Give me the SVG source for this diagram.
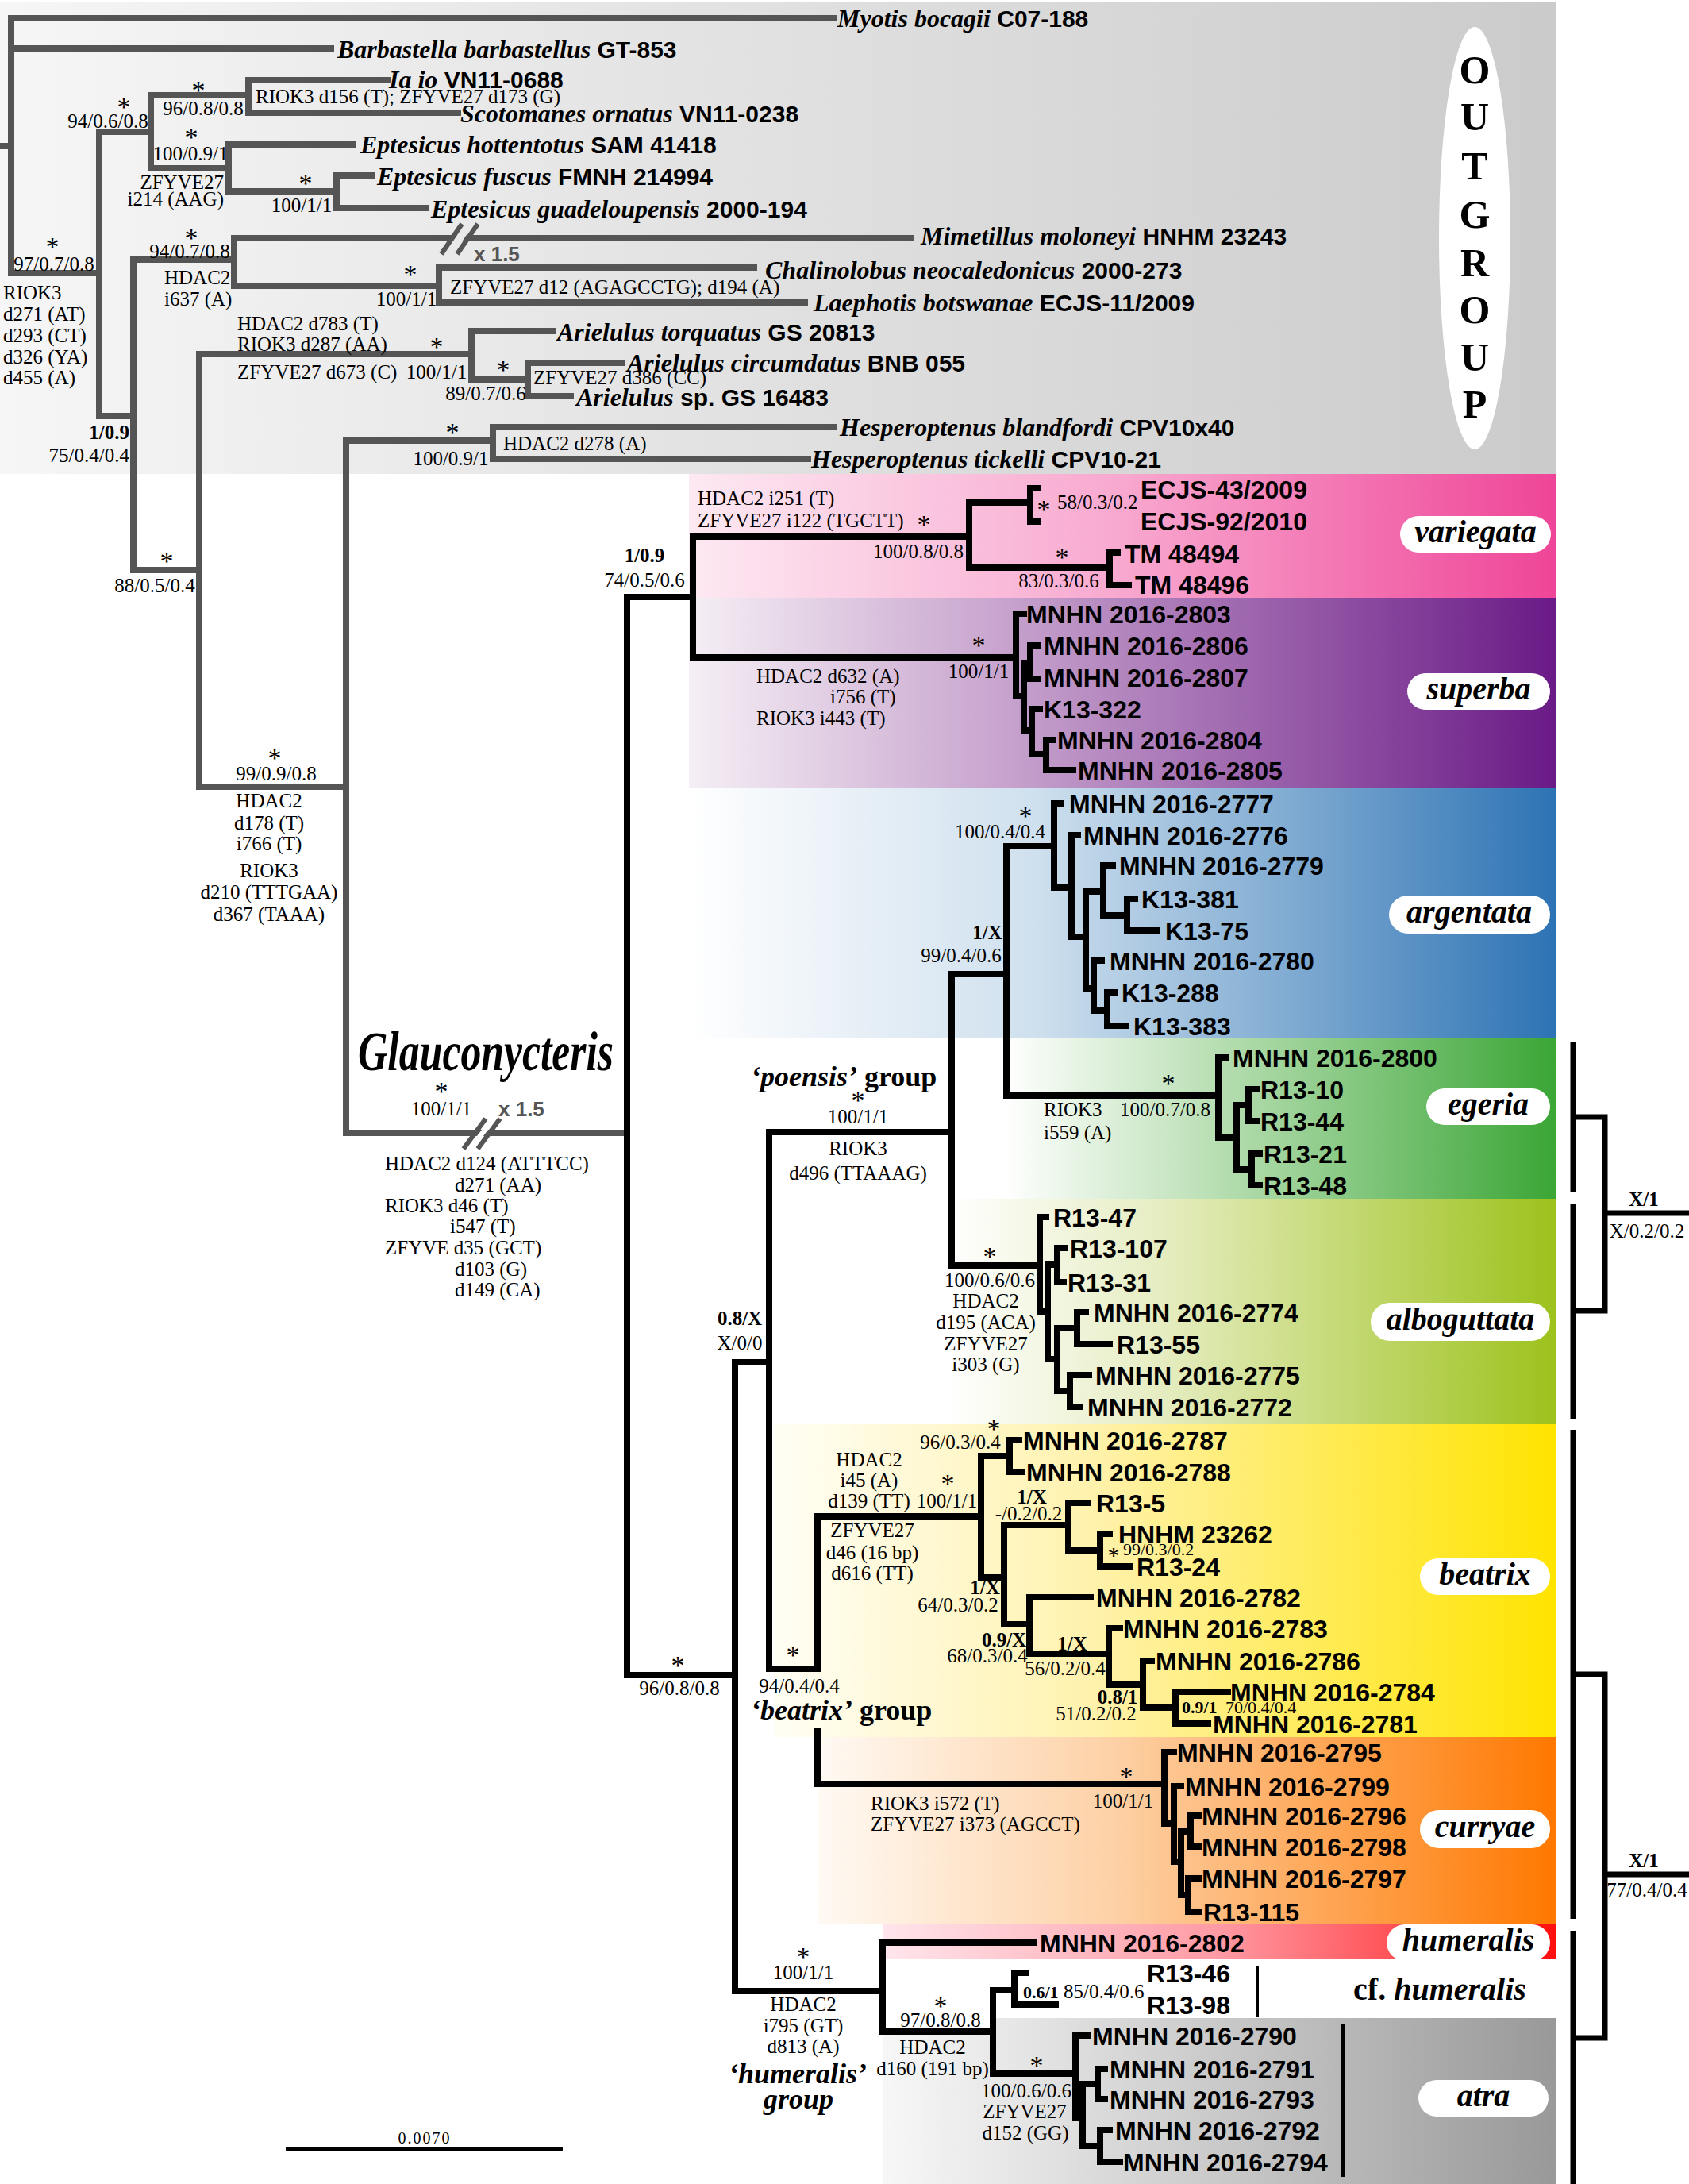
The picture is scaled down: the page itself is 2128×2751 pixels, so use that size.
<svg xmlns="http://www.w3.org/2000/svg" width="2128" height="2751" viewBox="0 0 2128 2751">
<defs>
<linearGradient id="gOut" x1="0" x2="1" y1="0" y2="0"><stop offset="0" stop-color="#f6f6f6"/><stop offset="1" stop-color="#cbcbcb"/></linearGradient>
<linearGradient id="gVar" x1="0" x2="1" y1="0" y2="0"><stop offset="0" stop-color="#fde9f2"/><stop offset="0.5" stop-color="#f8a8cf"/><stop offset="1" stop-color="#ef4598"/></linearGradient>
<linearGradient id="gSup" x1="0" x2="1" y1="0" y2="0"><stop offset="0" stop-color="#f5eff5"/><stop offset="0.35" stop-color="#c9a6cf"/><stop offset="1" stop-color="#6a1a86"/></linearGradient>
<linearGradient id="gArg" x1="0" x2="1" y1="0" y2="0"><stop offset="0" stop-color="#ffffff"/><stop offset="0.4" stop-color="#cfe0ee"/><stop offset="1" stop-color="#2d73b4"/></linearGradient>
<linearGradient id="gEge" x1="0" x2="1" y1="0" y2="0"><stop offset="0" stop-color="#ffffff"/><stop offset="0.3" stop-color="#c9e6c4"/><stop offset="1" stop-color="#3ba636"/></linearGradient>
<linearGradient id="gAlb" x1="0" x2="1" y1="0" y2="0"><stop offset="0" stop-color="#ffffff"/><stop offset="0.35" stop-color="#e6edc2"/><stop offset="1" stop-color="#9dc21d"/></linearGradient>
<linearGradient id="gBea" x1="0" x2="1" y1="0" y2="0"><stop offset="0" stop-color="#fffef5"/><stop offset="0.4" stop-color="#fff2ae"/><stop offset="1" stop-color="#ffe400"/></linearGradient>
<linearGradient id="gCur" x1="0" x2="1" y1="0" y2="0"><stop offset="0" stop-color="#fffaf4"/><stop offset="0.4" stop-color="#fdd1a6"/><stop offset="1" stop-color="#ff7800"/></linearGradient>
<linearGradient id="gHum" x1="0" x2="1" y1="0" y2="0"><stop offset="0" stop-color="#ffe6ec"/><stop offset="0.5" stop-color="#ff9aa4"/><stop offset="1" stop-color="#ff0f0f"/></linearGradient>
<linearGradient id="gAtr" gradientUnits="userSpaceOnUse" x1="1112" x2="1960" y1="0" y2="0"><stop offset="0" stop-color="#f7f7f7"/><stop offset="0.2" stop-color="#e6e6e6"/><stop offset="1" stop-color="#999999"/></linearGradient>
<style>
.og{fill:none;stroke:#555;stroke-width:8;stroke-linecap:square}
.ig{fill:none;stroke:#000;stroke-width:8;stroke-linecap:square}
.br{fill:none;stroke:#000;stroke-width:7}
.sep{fill:none;stroke:#000;stroke-width:4}
.sv{font-family:"Liberation Serif",serif;font-size:25px;fill:#000}
.sm{font-size:22px}
.b{font-weight:bold}
.m{text-anchor:middle}
.e{text-anchor:end}
.ast{font-family:"Liberation Serif",serif;font-size:34px;text-anchor:middle}
.tip{font-family:"Liberation Sans",Arial,sans-serif;font-weight:bold;font-size:32px}
.ogsp{font-family:"Liberation Serif",serif;font-style:italic;font-weight:bold;font-size:32px}
.code{font-family:"Liberation Sans",Arial,sans-serif;font-style:normal;font-weight:bold;font-size:30px}
.pill{fill:#fff}
.pt{font-family:"Liberation Serif",serif;font-style:italic;font-weight:bold;font-size:40px;text-anchor:middle}
.grp{font-family:"Liberation Serif",serif;font-weight:bold;font-size:36px}
.brk{font-family:"Liberation Sans",Arial,sans-serif;font-weight:bold;font-size:26px;fill:#555}
.og-letter{font-family:"Liberation Serif",serif;font-weight:bold;font-size:50px;text-anchor:middle}
</style>
</defs>
<rect width="2128" height="2751" fill="#fff"/>
<g id="bands">
<rect x="0" y="3" width="1960" height="594" fill="url(#gOut)"/>
<rect x="868" y="597" width="1092" height="156" fill="url(#gVar)"/>
<rect x="868" y="753" width="1092" height="240" fill="url(#gSup)"/>
<rect x="868" y="993" width="1092" height="315" fill="url(#gArg)"/>
<rect x="1265" y="1308" width="695" height="202" fill="url(#gEge)"/>
<rect x="1192" y="1510" width="768" height="284" fill="url(#gAlb)"/>
<rect x="975" y="1794" width="985" height="394" fill="url(#gBea)"/>
<rect x="1030" y="2188" width="930" height="236" fill="url(#gCur)"/>
<rect x="1112" y="2424" width="848" height="44" fill="url(#gHum)"/>
<path d="M1251 2542H1960V2751H1112V2562H1251Z" fill="url(#gAtr)"/>
</g>
<g id="connectors">
<path class="og" d="M0 184H14 M14 23V344 M14 23H1050 M14 61H417 M14 344H125 M125 166V524 M125 166H190 M190 120V212 M190 120H313 M313 101V142 M313 101H489 M313 142H577 M190 212H288 M288 182V241 M288 182H444 M288 241H424 M424 221V262 M424 221H468 M424 262H536 M125 524H168 M168 327V718 M168 327H295 M295 300V360 M295 300H1147 M295 360H553 M553 337V381 M553 337H950 M553 381H1014 M168 718H251 M251 446V991 M251 446H594 M594 417V478 M594 417H696 M594 478H665 M665 457V499 M665 457H784 M665 499H719 M251 991H436 M436 555V1427 M436 555H621 M621 538V578 M621 538H1050 M621 578H1018 M436 1427H786"/>
<path class="ig" d="M790 752V2110 M790 752H873 M873 676V828 M873 676H1221 M1221 633V715 M1221 633H1298 M1298 615V657 M1298 615H1308 M1298 657H1308 M1221 715H1398 M1398 696V737 M1398 696H1408 M1398 737H1422 M873 828H1280 M1280 773V877 M1280 773H1290 M1280 877H1290 M1290 835V920 M1290 835H1298 M1298 813V855 M1298 813H1308 M1298 855H1308 M1290 920H1300 M1300 893V950 M1300 893H1310 M1300 950H1318 M1318 932V970 M1318 932H1326 M1318 970H1352"/>
<path class="ig" d="M790 2110H926 M926 1716V2508 M926 1716H969 M969 1426V2102 M969 1426H1199 M1199 1227V1594 M1199 1227H1268 M1268 1066V1380 M1268 1066H1328 M1328 1012V1118 M1328 1012H1337 M1328 1118H1350 M1350 1052V1180 M1350 1052H1358 M1350 1180H1368 M1368 1123V1245 M1368 1123H1390 M1390 1090V1153 M1390 1090H1402 M1390 1153H1420 M1420 1132V1172 M1420 1132H1430 M1420 1172H1457 M1368 1245H1378 M1378 1210V1273 M1378 1210H1388 M1378 1273H1395 M1395 1250V1292 M1395 1250H1405 M1395 1292H1418 M1268 1380H1535 M1535 1332V1433 M1535 1332H1545 M1535 1433H1558 M1558 1392V1473 M1558 1392H1573 M1573 1372V1412 M1573 1372H1583 M1573 1412H1583 M1558 1473H1577 M1577 1453V1493 M1577 1453H1587 M1577 1493H1587 M1199 1594H1310 M1310 1533V1652 M1310 1533H1318 M1310 1652H1320 M1320 1593V1712 M1320 1593H1332 M1332 1572V1615 M1332 1572H1342 M1332 1615H1340 M1320 1712H1332 M1332 1673V1752 M1332 1673H1357 M1357 1653V1693 M1357 1653H1368 M1357 1693H1398 M1332 1752H1348 M1348 1732V1772 M1348 1732H1372 M1348 1772H1360"/>
<path class="ig" d="M969 2102H1030 M1030 1910V2094 M1030 2180V2247 M1030 1910H1236 M1236 1834V1987 M1236 1834H1272 M1272 1814V1854 M1272 1814H1284 M1272 1854H1288 M1236 1987H1265 M1265 1921V2046 M1265 1921H1346 M1346 1893V1953 M1346 1893H1371 M1346 1953H1386 M1386 1932V1973 M1386 1932H1398 M1386 1973H1423 M1265 2046H1297 M1297 2012V2083 M1297 2012H1374 M1297 2083H1397 M1397 2051V2122 M1397 2051H1411 M1397 2122H1440 M1440 2092V2151 M1440 2092H1451 M1440 2151H1481 M1481 2131V2171 M1481 2131H1547 M1481 2171H1522 M1030 2247H1467 M1467 2207V2297 M1467 2207H1479 M1467 2297H1479 M1479 2250V2345 M1479 2250H1488 M1479 2345H1488 M1488 2307V2387 M1488 2307H1500 M1500 2287V2326 M1500 2287H1510 M1500 2326H1510 M1488 2387H1497 M1497 2366V2408 M1497 2366H1510 M1497 2408H1510 M926 2508H1112 M1112 2447V2559 M1112 2447H1303 M1112 2559H1251 M1251 2507V2612 M1251 2507H1278 M1278 2485V2525 M1278 2485H1293 M1278 2525H1330 M1251 2612H1355 M1355 2564V2668 M1355 2564H1371 M1355 2668H1364 M1364 2625V2703 M1364 2625H1383 M1383 2606V2644 M1383 2606H1392 M1383 2644H1392 M1364 2703H1386 M1386 2683V2723 M1386 2683H1398 M1386 2723H1411"/>
<polygon points="561,318 585,282 597,282 573,318" fill="#e9e9e9"/>
<path d="M556 320L582 282 M576 320L602 282" stroke="#555" stroke-width="6" fill="none"/>
<polygon points="590,1445 618,1409 626,1409 598,1445" fill="#fff"/>
<path d="M584 1447L612 1409 M602 1447L630 1409" stroke="#555" stroke-width="6" fill="none"/>
<path class="br" d="M1982 1313V1502 M1982 1516V1787 M1982 1801V2417 M1982 2432V2751 M1982 1407H2022V1651H1982 M2022 1528H2128 M1982 2109H2022V2567H1982 M2022 2361H2128"/>
<path class="sep" d="M1584 2476V2541 M1692 2550V2742"/>
<path d="M360 2707H709" stroke="#000" stroke-width="6"/>
</g>
<g id="outgroup-taxa">
<g id="t-myotis"><text class="ogsp" x="1055" y="34">Myotis bocagii<tspan class="code"> C07-188</tspan></text></g>
<g id="t-barbastella"><text class="ogsp" x="425" y="73">Barbastella barbastellus<tspan class="code"> GT-853</tspan></text></g>
<g id="t-ia"><text class="ogsp" x="490" y="111">Ia io<tspan class="code"> VN11-0688</tspan></text></g>
<g id="t-scotomanes"><text class="ogsp" x="580" y="154">Scotomanes ornatus<tspan class="code"> VN11-0238</tspan></text></g>
<g id="t-ehot"><text class="ogsp" x="454" y="193">Eptesicus hottentotus<tspan class="code"> SAM 41418</tspan></text></g>
<g id="t-efus"><text class="ogsp" x="475" y="233">Eptesicus fuscus<tspan class="code"> FMNH 214994</tspan></text></g>
<g id="t-egua"><text class="ogsp" x="543" y="274">Eptesicus guadeloupensis<tspan class="code"> 2000-194</tspan></text></g>
<g id="t-mimetillus"><text class="ogsp" x="1160" y="308">Mimetillus moloneyi<tspan class="code"> HNHM 23243</tspan></text></g>
<g id="t-chalinolobus"><text class="ogsp" x="964" y="351">Chalinolobus neocaledonicus<tspan class="code"> 2000-273</tspan></text></g>
<g id="t-laephotis"><text class="ogsp" x="1025" y="392">Laephotis botswanae<tspan class="code"> ECJS-11/2009</tspan></text></g>
<g id="t-atorq"><text class="ogsp" x="702" y="429">Arielulus torquatus<tspan class="code"> GS 20813</tspan></text></g>
<g id="t-acirc"><text class="ogsp" x="790" y="468">Arielulus circumdatus<tspan class="code"> BNB 055</tspan></text></g>
<g id="t-asp"><text class="ogsp" x="726" y="511">Arielulus<tspan class="code"> sp. GS 16483</tspan></text></g>
<g id="t-hbland"><text class="ogsp" x="1058" y="549">Hesperoptenus blandfordi<tspan class="code"> CPV10x40</tspan></text></g>
<g id="t-htick"><text class="ogsp" x="1022" y="589">Hesperoptenus tickelli<tspan class="code"> CPV10-21</tspan></text></g>
</g>
<g id="outgroup-label">
<ellipse cx="1858" cy="300" rx="45" ry="266" class="pill"/>
<text class="og-letter" x="1858" y="105">O</text>
<text class="og-letter" x="1858" y="164">U</text>
<text class="og-letter" x="1858" y="226">T</text>
<text class="og-letter" x="1858" y="287">G</text>
<text class="og-letter" x="1858" y="348">R</text>
<text class="og-letter" x="1858" y="407">O</text>
<text class="og-letter" x="1858" y="467">U</text>
<text class="og-letter" x="1858" y="526">P</text>
</g>
<g id="outgroup-nodes">
<g id="n-root-a"><text class="ast" x="66" y="322">*</text><text class="sv m" x="68" y="341">97/0.7/0.8</text>
<text class="sv" x="4" y="377">RIOK3</text><text class="sv" x="4" y="404">d271 (AT)</text><text class="sv" x="4" y="431">d293 (CT)</text><text class="sv" x="4" y="458">d326 (YA)</text><text class="sv" x="4" y="484">d455 (A)</text></g>
<g id="n-94a"><text class="ast" x="156" y="146">*</text><text class="sv m" x="136" y="161">94/0.6/0.8</text></g>
<g id="n-96a"><text class="ast" x="250" y="125">*</text><text class="sv m" x="256" y="145">96/0.8/0.8</text><text class="sv" x="322" y="130">RIOK3 d156 (T); ZFYVE27 d173 (G)</text></g>
<g id="n-ept"><text class="ast" x="241" y="184">*</text><text class="sv m" x="240" y="202">100/0.9/1</text><text class="sv e" x="282" y="238">ZFYVE27</text><text class="sv e" x="282" y="259">i214 (AAG)</text></g>
<g id="n-efg"><text class="ast" x="385" y="242">*</text><text class="sv m" x="380" y="267">100/1/1</text></g>
<g id="n-109"><text class="sv b e" x="163" y="553">1/0.9</text><text class="sv e" x="163" y="582">75/0.4/0.4</text></g>
<g id="n-94b"><text class="ast" x="241" y="311">*</text><text class="sv m" x="239" y="325">94/0.7/0.8</text><text class="sv" x="207" y="358">HDAC2</text><text class="sv" x="207" y="385">i637 (A)</text><text class="brk" x="597" y="329">x 1.5</text></g>
<g id="n-chal"><text class="ast" x="517" y="357">*</text><text class="sv m" x="512" y="385">100/1/1</text><text class="sv" x="567" y="370">ZFYVE27 d12 (AGAGCCTG); d194 (A)</text></g>
<g id="n-ari"><text class="sv" x="299" y="416">HDAC2 d783 (T)</text><text class="sv" x="299" y="442">RIOK3 d287 (AA)</text><text class="sv" x="299" y="477">ZFYVE27 d673 (C)</text><text class="ast" x="550" y="448">*</text><text class="sv m" x="550" y="477">100/1/1</text></g>
<g id="n-ari2"><text class="ast" x="634" y="477">*</text><text class="sv m" x="612" y="504">89/0.7/0.6</text><text class="sv" x="672" y="484">ZFYVE27 d386 (CC)</text></g>
<g id="n-hesp"><text class="ast" x="570" y="556">*</text><text class="sv m" x="568" y="586">100/0.9/1</text><text class="sv" x="634" y="567">HDAC2 d278 (A)</text></g>
<g id="n-88"><text class="ast" x="210" y="718">*</text><text class="sv m" x="195" y="746">88/0.5/0.4</text></g>
<g id="n-99"><text class="ast" x="346" y="966">*</text><text class="sv m" x="348" y="983">99/0.9/0.8</text>
<text class="sv m" x="339" y="1017">HDAC2</text><text class="sv m" x="339" y="1045">d178 (T)</text><text class="sv m" x="339" y="1071">i766 (T)</text><text class="sv m" x="339" y="1105">RIOK3</text><text class="sv m" x="339" y="1132">d210 (TTTGAA)</text><text class="sv m" x="339" y="1160">d367 (TAAA)</text></g>
<g id="n-glauco"><text class="grp" x="451" y="1348" style="font-size:70px;font-style:italic" textLength="322" lengthAdjust="spacingAndGlyphs">Glauconycteris</text>
<text class="ast" x="556" y="1386">*</text><text class="sv m" x="556" y="1405">100/1/1</text><text class="brk" x="628" y="1406">x 1.5</text>
<text class="sv" x="485" y="1474">HDAC2 d124 (ATTTCC)</text><text class="sv" x="573" y="1501">d271 (AA)</text><text class="sv" x="485" y="1527">RIOK3 d46 (T)</text><text class="sv" x="567" y="1553">i547 (T)</text><text class="sv" x="485" y="1580">ZFYVE d35 (GCT)</text><text class="sv" x="573" y="1607">d103 (G)</text><text class="sv" x="573" y="1633">d149 (CA)</text></g>
</g>
<g id="ingroup-nodes">
<g id="n-varsup"><text class="sv b m" x="812" y="708">1/0.9</text><text class="sv m" x="812" y="739">74/0.5/0.6</text></g>
<g id="n-var"><text class="sv" x="879" y="636">HDAC2 i251 (T)</text><text class="sv" x="879" y="664">ZFYVE27 i122 (TGCTT)</text><text class="ast" x="1164" y="672">*</text><text class="sv m" x="1157" y="703">100/0.8/0.8</text></g>
<g id="n-ecjs"><text class="ast" x="1315" y="653">*</text><text class="sv" x="1332" y="641">58/0.3/0.2</text></g>
<g id="n-tm"><text class="ast" x="1338" y="713">*</text><text class="sv m" x="1334" y="740">83/0.3/0.6</text></g>
<g id="n-sup"><text class="ast" x="1233" y="824">*</text><text class="sv m" x="1233" y="854">100/1/1</text><text class="sv" x="953" y="860">HDAC2 d632 (A)</text><text class="sv" x="1046" y="886">i756 (T)</text><text class="sv" x="953" y="913">RIOK3 i443 (T)</text></g>
<g id="n-arg"><text class="ast" x="1292" y="1039">*</text><text class="sv m" x="1260" y="1056">100/0.4/0.4</text></g>
<g id="n-argege"><text class="sv b m" x="1244" y="1183">1/X</text><text class="sv m" x="1211" y="1212">99/0.4/0.6</text></g>
<g id="n-ege"><text class="ast" x="1472" y="1376">*</text><text class="sv m" x="1468" y="1406">100/0.7/0.8</text><text class="sv" x="1315" y="1406">RIOK3</text><text class="sv" x="1315" y="1435">i559 (A)</text></g>
<g id="n-alb"><text class="ast" x="1247" y="1594">*</text><text class="sv m" x="1247" y="1621">100/0.6/0.6</text><text class="sv m" x="1242" y="1647">HDAC2</text><text class="sv m" x="1242" y="1674">d195 (ACA)</text><text class="sv m" x="1242" y="1701">ZFYVE27</text><text class="sv m" x="1242" y="1727">i303 (G)</text></g>
<g id="n-poensis"><text class="grp" x="946" y="1368"><tspan style="font-style:italic">‘poensis’</tspan> group</text><text class="ast" x="1081" y="1397">*</text><text class="sv m" x="1081" y="1415">100/1/1</text><text class="sv m" x="1081" y="1455">RIOK3</text><text class="sv m" x="1081" y="1486">d496 (TTAAAG)</text></g>
<g id="n-08x"><text class="sv b m" x="932" y="1669">0.8/X</text><text class="sv m" x="932" y="1700">X/0/0</text></g>
<g id="n-96"><text class="ast" x="854" y="2109">*</text><text class="sv m" x="856" y="2135">96/0.8/0.8</text></g>
<g id="n-bea1"><text class="ast" x="1252" y="1811">*</text><text class="sv m" x="1210" y="1825">96/0.3/0.4</text></g>
<g id="n-bea"><text class="sv m" x="1095" y="1847">HDAC2</text><text class="sv m" x="1095" y="1873">i45 (A)</text><text class="sv m" x="1095" y="1899">d139 (TT)</text><text class="ast" x="1194" y="1880">*</text><text class="sv m" x="1193" y="1899">100/1/1</text><text class="sv m" x="1099" y="1936">ZFYVE27</text><text class="sv m" x="1099" y="1964">d46 (16 bp)</text><text class="sv m" x="1099" y="1990">d616 (TT)</text></g>
<g id="n-bea2"><text class="sv b m" x="1300" y="1894">1/X</text><text class="sv m" x="1296" y="1915">-/0.2/0.2</text></g>
<g id="n-bea3"><text class="ast" x="1403" y="1969" style="font-size:30px">*</text><text class="sv sm" x="1415" y="1959">99/0.3/0.2</text></g>
<g id="n-bea4"><text class="sv b m" x="1241" y="2008">1/X</text><text class="sv m" x="1207" y="2030">64/0.3/0.2</text></g>
<g id="n-bea5"><text class="sv b m" x="1265" y="2074">0.9/X</text><text class="sv m" x="1244" y="2094">68/0.3/0.4</text></g>
<g id="n-bea6"><text class="sv b m" x="1351" y="2079">1/X</text><text class="sv m" x="1342" y="2110">56/0.2/0.4</text></g>
<g id="n-bea7"><text class="sv b m" x="1408" y="2146">0.8/1</text><text class="sv m" x="1381" y="2167">51/0.2/0.2</text></g>
<g id="n-bea8"><text class="sv sm b" x="1489" y="2158">0.9/1</text><text class="sv sm" x="1544" y="2158">70/0.4/0.4</text></g>
<g id="n-beagrp"><text class="ast" x="999" y="2096">*</text><text class="sv m" x="1007" y="2132">94/0.4/0.4</text><text class="grp" x="946" y="2166"><tspan style="font-style:italic">‘beatrix’</tspan> group</text></g>
<g id="n-cur"><text class="ast" x="1419" y="2249">*</text><text class="sv m" x="1415" y="2277">100/1/1</text><text class="sv" x="1097" y="2280">RIOK3 i572 (T)</text><text class="sv" x="1097" y="2306">ZFYVE27 i373 (AGCCT)</text></g>
<g id="n-humgrp"><text class="ast" x="1012" y="2476">*</text><text class="sv m" x="1012" y="2493">100/1/1</text><text class="sv m" x="1012" y="2533">HDAC2</text><text class="sv m" x="1012" y="2560">i795 (GT)</text><text class="sv m" x="1012" y="2586">d813 (A)</text><text class="grp m" x="1005" y="2624" style="font-style:italic">‘humeralis’</text><text class="grp m" x="1006" y="2656" style="font-style:italic">group</text></g>
<g id="n-hum2"><text class="ast" x="1185" y="2538">*</text><text class="sv m" x="1185" y="2553">97/0.8/0.8</text><text class="sv m" x="1175" y="2587">HDAC2</text><text class="sv m" x="1175" y="2614">d160 (191 bp)</text></g>
<g id="n-cfhum"><text class="sv sm b" x="1289" y="2517">0.6/1</text><text class="sv" x="1340" y="2517">85/0.4/0.6</text></g>
<g id="n-atra"><text class="ast" x="1306" y="2613">*</text><text class="sv m" x="1293" y="2642">100/0.6/0.6</text><text class="sv m" x="1291" y="2668">ZFYVE27</text><text class="sv m" x="1292" y="2695">d152 (GG)</text></g>
<g id="n-right1"><text class="sv b m" x="2071" y="1519">X/1</text><text class="sv m" x="2075" y="1559">X/0.2/0.2</text></g>
<g id="n-right2"><text class="sv b m" x="2071" y="2352">X/1</text><text class="sv m" x="2075" y="2389">77/0.4/0.4</text></g>
</g>
<g id="ingroup-taxa">
<text class="tip" x="1437" y="628">ECJS-43/2009</text>
<text class="tip" x="1437" y="668">ECJS-92/2010</text>
<text class="tip" x="1417" y="709">TM 48494</text>
<text class="tip" x="1430" y="748">TM 48496</text>
<text class="tip" x="1293" y="785">MNHN 2016-2803</text>
<text class="tip" x="1315" y="825">MNHN 2016-2806</text>
<text class="tip" x="1315" y="865">MNHN 2016-2807</text>
<text class="tip" x="1315" y="905">K13-322</text>
<text class="tip" x="1332" y="944">MNHN 2016-2804</text>
<text class="tip" x="1358" y="982">MNHN 2016-2805</text>
<text class="tip" x="1347" y="1024">MNHN 2016-2777</text>
<text class="tip" x="1365" y="1064">MNHN 2016-2776</text>
<text class="tip" x="1410" y="1102">MNHN 2016-2779</text>
<text class="tip" x="1438" y="1144">K13-381</text>
<text class="tip" x="1468" y="1184">K13-75</text>
<text class="tip" x="1398" y="1222">MNHN 2016-2780</text>
<text class="tip" x="1413" y="1262">K13-288</text>
<text class="tip" x="1428" y="1304">K13-383</text>
<text class="tip" x="1553" y="1344">MNHN 2016-2800</text>
<text class="tip" x="1588" y="1384">R13-10</text>
<text class="tip" x="1588" y="1424">R13-44</text>
<text class="tip" x="1592" y="1465">R13-21</text>
<text class="tip" x="1592" y="1505">R13-48</text>
<text class="tip" x="1327" y="1545">R13-47</text>
<text class="tip" x="1348" y="1584">R13-107</text>
<text class="tip" x="1345" y="1627">R13-31</text>
<text class="tip" x="1378" y="1665">MNHN 2016-2774</text>
<text class="tip" x="1407" y="1705">R13-55</text>
<text class="tip" x="1380" y="1744">MNHN 2016-2775</text>
<text class="tip" x="1370" y="1784">MNHN 2016-2772</text>
<text class="tip" x="1289" y="1826">MNHN 2016-2787</text>
<text class="tip" x="1293" y="1866">MNHN 2016-2788</text>
<text class="tip" x="1381" y="1905">R13-5</text>
<text class="tip" x="1409" y="1944">HNHM 23262</text>
<text class="tip" x="1432" y="1985">R13-24</text>
<text class="tip" x="1381" y="2024">MNHN 2016-2782</text>
<text class="tip" x="1415" y="2063">MNHN 2016-2783</text>
<text class="tip" x="1456" y="2104">MNHN 2016-2786</text>
<text class="tip" x="1550" y="2143">MNHN 2016-2784</text>
<text class="tip" x="1528" y="2183">MNHN 2016-2781</text>
<text class="tip" x="1483" y="2219">MNHN 2016-2795</text>
<text class="tip" x="1493" y="2262">MNHN 2016-2799</text>
<text class="tip" x="1514" y="2299">MNHN 2016-2796</text>
<text class="tip" x="1514" y="2338">MNHN 2016-2798</text>
<text class="tip" x="1514" y="2378">MNHN 2016-2797</text>
<text class="tip" x="1516" y="2420">R13-115</text>
<text class="tip" x="1310" y="2459">MNHN 2016-2802</text>
<text class="tip" x="1445" y="2497">R13-46</text>
<text class="tip" x="1445" y="2537">R13-98</text>
<text class="tip" x="1376" y="2576">MNHN 2016-2790</text>
<text class="tip" x="1398" y="2618">MNHN 2016-2791</text>
<text class="tip" x="1398" y="2656">MNHN 2016-2793</text>
<text class="tip" x="1405" y="2695">MNHN 2016-2792</text>
<text class="tip" x="1415" y="2735">MNHN 2016-2794</text>
</g>
<g id="clade-labels">
<g id="c-variegata"><rect class="pill" x="1764" y="650" width="190" height="46" rx="23"/><text class="pt" x="1859" y="683">variegata</text></g>
<g id="c-superba"><rect class="pill" x="1773" y="848" width="180" height="46" rx="23"/><text class="pt" x="1863" y="881">superba</text></g>
<g id="c-argentata"><rect class="pill" x="1750" y="1128" width="203" height="48" rx="24"/><text class="pt" x="1851" y="1162">argentata</text></g>
<g id="c-egeria"><rect class="pill" x="1797" y="1371" width="156" height="46" rx="23"/><text class="pt" x="1875" y="1404">egeria</text></g>
<g id="c-alboguttata"><rect class="pill" x="1727" y="1641" width="226" height="48" rx="24"/><text class="pt" x="1840" y="1675">alboguttata</text></g>
<g id="c-beatrix"><rect class="pill" x="1789" y="1963" width="164" height="46" rx="23"/><text class="pt" x="1871" y="1996">beatrix</text></g>
<g id="c-curryae"><rect class="pill" x="1789" y="2280" width="164" height="48" rx="24"/><text class="pt" x="1871" y="2314">curryae</text></g>
<g id="c-humeralis"><rect class="pill" x="1747" y="2424" width="206" height="46" rx="23"/><text class="pt" x="1850" y="2457">humeralis</text></g>
<g id="c-cfhumeralis"><text class="pt" x="1814" y="2519" style="font-style:normal">cf. <tspan style="font-style:italic">humeralis</tspan></text></g>
<g id="c-atra"><rect class="pill" x="1787" y="2620" width="164" height="46" rx="23"/><text class="pt" x="1869" y="2653">atra</text></g>
</g>
<g id="scale"><text class="sv m" x="535" y="2700" style="font-size:20px;letter-spacing:2px">0.0070</text></g>
</svg>
